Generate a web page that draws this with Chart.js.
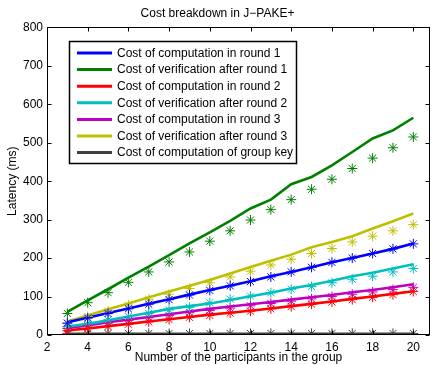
<!DOCTYPE html>
<html><head><meta charset="utf-8">
<script src="https://cdn.jsdelivr.net/npm/chart.js@4"></script>
<style>html,body{margin:0;padding:0;background:#fff}#wrap{width:436px;height:365px}</style>
</head><body><div id="wrap"><canvas id="c" width="436" height="365"></canvas></div>
<script>
const participants = [3,4,5,6,7,8,9,10,11,12,13,14,15,16,17,18,19,20];
const xTicks = [2,4,6,8,10,12,14,16,18,20];
const yTicks = [0,100,200,300,400,500,600,700,800];
const seriesNames = [
  "Cost of computation in round 1",
  "Cost of verification after round 1",
  "Cost of computation in round 2",
  "Cost of verification after round 2",
  "Cost of computation in round 3",
  "Cost of verification after round 3",
  "Cost of computation of group key"
];
// fitted lines
const comp1Line   = [33,45,57,69,81,93,105,117,128,140,153,164,176,189,200,212,224,238];
const verif1Line  = [60,90,119,149,178,208,238,267,297,329,352,392,411,441,476,511,532,565];
const comp2Line   = [12,17,23,29,35,41,47,53,58,63,69,75,81,87,94,100,107,114];
const verif2Line  = [22,29,38,48,58,68,75,82,91,101,110,121,130,141,153,162,173,184];
const comp3Line   = [18,25,33,40,47,54,61,68,74,80,86,92,98,104,111,117,124,132];
const verif3Line  = [35,51,67,82,98,113,128,143,160,177,193,209,228,242,257,277,296,316];
const groupKeyLine= [2,2,2,2,2,2,2,2,2,2,2,2,2,2,2,2,2,2];
// measured points (asterisks)
const comp1Pts    = [31,44,56,68,80,92,104,116,128,139,151,164,176,189,200,212,224,237];
const verif1Pts   = [56,84,110,137,164,190,216,244,271,299,326,352,379,405,433,460,487,515];
const comp2Pts    = [11,17,22,28,34,40,46,51,57,62,68,74,80,86,92,98,105,113];
const verif2Pts   = [22,30,39,48,56,65,72,84,93,101,110,119,126,136,145,153,164,173];
const comp3Pts    = [17,24,31,38,45,51,58,64,70,76,82,88,94,100,106,112,118,124];
const verif3Pts   = [30,48,62,78,93,106,121,136,151,166,182,197,212,225,242,257,271,287];
const groupKeyPts = [4,4,4,4,4,4,4,4,4,4,4,4,4,4,4,4,4,4];

const colors = ["#0000ff","#008000","#ff0000","#00bfbf","#bf00bf","#bfbf00","#404040"];
const lines = [comp1Line,verif1Line,comp2Line,verif2Line,comp3Line,verif3Line,groupKeyLine];
const pts = [comp1Pts,verif1Pts,comp2Pts,verif2Pts,comp3Pts,verif3Pts,groupKeyPts];
const FONT = "'Liberation Sans', Arial, Helvetica, sans-serif";

const datasets = [];
lines.forEach((arr,i)=>{
  datasets.push({label:seriesNames[i], data:participants.map((x,j)=>({x:x,y:arr[j]})),
    borderColor:colors[i], backgroundColor:colors[i], borderWidth:i===6?3.5:2.6,
    pointRadius:0, showLine:true, tension:0, order:2});
});
pts.forEach((arr,i)=>{
  datasets.push({label:seriesNames[i]+" (measured)", data:participants.map((x,j)=>({x:x,y:arr[j]})),
    borderColor:colors[i], backgroundColor:colors[i], borderWidth:1,
    pointStyle:'star', pointRadius:5, showLine:false, order:1});
});

const boxPlugin = {
  id:'boxPlugin',
  afterDraw(chart){
    const ctx = chart.ctx, a = chart.chartArea;
    const xs = chart.scales.x, ys = chart.scales.y;
    ctx.save();
    ctx.strokeStyle = '#000'; ctx.lineWidth = 1;
    const L = Math.round(a.left)+0.5, R = Math.round(a.right)-0.5, T = Math.round(a.top)+0.5, B = Math.round(a.bottom)-0.5;
    ctx.strokeRect(L, T, R-L, B-T);
    ctx.beginPath();
    xTicks.forEach(v=>{ const px = Math.round(xs.getPixelForValue(v))+0.5;
      ctx.moveTo(px,B); ctx.lineTo(px,B-4); ctx.moveTo(px,T); ctx.lineTo(px,T+4); });
    yTicks.forEach(v=>{ const py = Math.round(ys.getPixelForValue(v))+0.5;
      ctx.moveTo(L,py); ctx.lineTo(L+4,py); ctx.moveTo(R,py); ctx.lineTo(R-4,py); });
    ctx.stroke();
    // legend
    const bx=69.5, by=41.5, bw=227, bh=122;
    ctx.fillStyle='#fff'; ctx.fillRect(bx,by,bw,bh);
    ctx.strokeStyle='#000'; ctx.lineWidth=1.5; ctx.strokeRect(bx,by,bw,bh);
    ctx.font = "12px "+FONT; ctx.textBaseline='middle'; ctx.textAlign='left';
    seriesNames.forEach((n,i)=>{
      const y = 53 + i*16.6;
      ctx.strokeStyle = colors[i]; ctx.lineWidth = 3;
      ctx.beginPath(); ctx.moveTo(77,y); ctx.lineTo(112,y); ctx.stroke();
      ctx.fillStyle='#000'; ctx.fillText(n,117,y+0.5);
    });
    ctx.restore();
  }
};

new Chart(document.getElementById('c'), {
  type:'scatter',
  data:{datasets:datasets},
  options:{
    responsive:false, animation:false, devicePixelRatio:1,
    layout:{padding:{left:0,right:1,top:0,bottom:0}},
    plugins:{
      legend:{display:false}, tooltip:{enabled:false},
      title:{display:true, text:"Cost breakdown in J\u2212PAKE+", color:'#000',
        font:{family:FONT,size:12,weight:'normal'}, padding:{top:6,bottom:7}}
    },
    scales:{
      x:{type:'linear', min:2, max:20.82,
        afterBuildTicks(s){ s.ticks = xTicks.map(v=>({value:v})); },
        afterFit(s){ s.height = 30; },
        grid:{display:false, drawTicks:false}, border:{display:false},
        ticks:{color:'#000', font:{family:FONT,size:12}, padding:5, maxRotation:0, autoSkip:false},
        title:{display:true, text:"Number of the participants in the group", color:'#000',
          font:{family:FONT,size:12}, padding:{top:0,bottom:0}}
      },
      y:{type:'linear', min:0, max:800,
        afterBuildTicks(s){ s.ticks = yTicks.map(v=>({value:v})); },
        afterFit(s){ s.width = 47; },
        grid:{display:false, drawTicks:false}, border:{display:false},
        ticks:{color:'#000', font:{family:FONT,size:12}, padding:4},
        title:{display:true, text:"Latency (ms)", color:'#000',
          font:{family:FONT,size:12}, padding:{top:5,bottom:0}}
      }
    }
  },
  plugins:[boxPlugin]
});
</script></body></html>
